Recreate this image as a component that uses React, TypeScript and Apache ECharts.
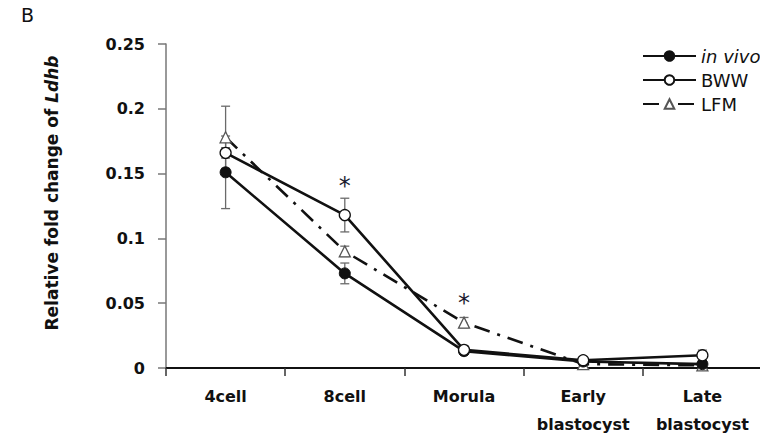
import React, { useEffect, useRef } from "react";
import * as echarts from "echarts";

const categories = ["4cell", "8cell", "Morula", "Early\nblastocyst", "Late\nblastocyst"];
const seriesNames = ["in vivo", "BWW", "LFM"];
const inVivo = [0.151, 0.073, 0.013, 0.005, 0.003];
const inVivoErr = [0.028, 0.008, 0.002, 0.001, 0.001];
const bww = [0.166, 0.118, 0.014, 0.006, 0.0098];
const bwwErr = [0.004, 0.013, 0.003, 0.001, 0.004];
const lfm = [0.178, 0.09, 0.035, 0.003, 0.002];
const lfmErr = [0.024, 0.004, 0.004, 0.001, 0.001];
const asteriskPoints = [[1, 0.1404], [2, 0.0502]];
const yTicks = { min: 0, max: 0.25, interval: 0.05 };

const FONT = "'DejaVu Sans', 'Noto Sans', sans-serif";

function errData(vals: number[], errs: number[]) {
  return vals.map((v, i) => [i, v - errs[i], v + errs[i]]);
}

export default function App() {
  const ref = useRef<HTMLDivElement>(null);
  useEffect(() => {
    if (!ref.current) return;
    const chart = echarts.init(ref.current, null, { renderer: "svg" });
    const errSeries = (name: string, vals: number[], errs: number[]) => ({
      type: "custom",
      name: name + "-err",
      silent: true,
      z: 1,
      data: errData(vals, errs),
      renderItem: (params: any, api: any) => {
        const x = api.value(0);
        const lo = api.coord([x, api.value(1)]);
        const hi = api.coord([x, api.value(2)]);
        const w = 4.5;
        const style = { stroke: "#6a6a6a", lineWidth: 1.3 };
        return {
          type: "group",
          children: [
            { type: "line", shape: { x1: lo[0], y1: lo[1], x2: hi[0], y2: hi[1] }, style },
            { type: "line", shape: { x1: lo[0] - w, y1: lo[1], x2: lo[0] + w, y2: lo[1] }, style },
            { type: "line", shape: { x1: hi[0] - w, y1: hi[1], x2: hi[0] + w, y2: hi[1] }, style },
          ],
        };
      },
    });
    const option: any = {
      animation: false,
      textStyle: { fontFamily: FONT },
      grid: { left: 166, right: 6, top: 44, bottom: 73, containLabel: false },
      graphic: [
        { type: "text", left: 21, top: 5, style: { text: "B", fontSize: 19, fontFamily: FONT, fill: "#111" } },
      ],
      legend: {
        orient: "vertical",
        left: 637,
        top: 42,
        itemWidth: 53,
        itemHeight: 12,
        itemGap: 6,
        data: seriesNames,
        textStyle: {
          fontSize: 18,
          fontFamily: FONT,
          color: "#111",
          rich: { i: { fontStyle: "italic", fontSize: 18, fontFamily: FONT, color: "#111" } },
        },
        formatter: (n: string) => (n === "in vivo" ? "{i|in vivo}" : n),
      },
      xAxis: {
        type: "category",
        data: categories,
        boundaryGap: true,
        axisLine: { lineStyle: { color: "#111", width: 2 } },
        axisTick: { show: true, interval: 0, length: 8, lineStyle: { color: "#333", width: 1.5 } },
        axisLabel: {
          interval: 0,
          fontSize: 16,
          fontWeight: "bold",
          fontFamily: FONT,
          color: "#111",
          margin: 14,
          lineHeight: 28,
        },
      },
      yAxis: {
        type: "value",
        min: yTicks.min,
        max: yTicks.max,
        interval: yTicks.interval,
        splitLine: { show: false },
        axisLine: { show: true, lineStyle: { color: "#777", width: 1.5 } },
        axisTick: { show: true, length: 8, lineStyle: { color: "#777", width: 1.5 } },
        axisLabel: {
          fontSize: 16,
          fontWeight: "bold",
          fontFamily: FONT,
          color: "#111",
          margin: 21,
        },
        name: "{b|Relative fold change of }{bi|Ldhb}",
        nameLocation: "middle",
        nameRotate: 90,
        nameGap: 106,
        nameTextStyle: {
          padding: [0, 0, 0, 26],
          rich: {
            b: { fontSize: 17, fontWeight: "bold", fontFamily: FONT, color: "#111" },
            bi: { fontSize: 17, fontWeight: "bold", fontStyle: "italic", fontFamily: FONT, color: "#111" },
          },
        },
      },
      series: [
        errSeries("in vivo", inVivo, inVivoErr),
        errSeries("BWW", bww, bwwErr),
        errSeries("LFM", lfm, lfmErr),
        {
          type: "line",
          name: "in vivo",
          data: inVivo,
          z: 3,
          symbol: "circle",
          symbolSize: 11,
          lineStyle: { color: "#111", width: 2.6 },
          itemStyle: { color: "#111", borderColor: "#111", borderWidth: 1 },
        },
        {
          type: "line",
          name: "BWW",
          data: bww,
          z: 4,
          symbol: "circle",
          symbolSize: 11,
          lineStyle: { color: "#111", width: 2.6 },
          itemStyle: { color: "#fff", borderColor: "#111", borderWidth: 1.3 },
        },
        {
          type: "line",
          name: "LFM",
          data: lfm,
          z: 2,
          symbol: "triangle",
          symbolSize: 11,
          lineStyle: { color: "#111", width: 2.6, type: [16, 8, 3, 8] },
          itemStyle: { color: "#fff", borderColor: "#555", borderWidth: 1.3 },
        },
        {
          type: "custom",
          name: "asterisk",
          data: asteriskPoints,
          silent: true,
          z: 5,
          renderItem: (params: any, api: any) => {
            const p = api.coord([api.value(0), api.value(1)]);
            return {
              type: "text",
              x: p[0],
              y: p[1],
              style: {
                text: "*",
                fontSize: 24,
                fontFamily: FONT,
                fill: "#1a1a2e",
                align: "center",
                verticalAlign: "middle",
              },
            };
          },
        },
      ],
    };
    chart.setOption(option);
    return () => chart.dispose();
  }, []);
  return <div ref={ref} style={{ width: 768, height: 441, margin: -8 }} />;
}
